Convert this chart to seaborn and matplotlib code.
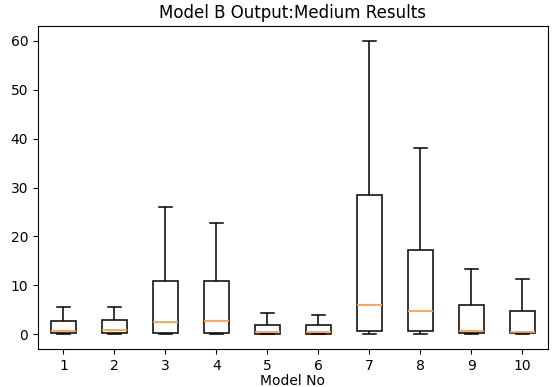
import numpy as np
import pandas as pd
import matplotlib
matplotlib.use("Agg")
import matplotlib.pyplot as plt
import seaborn as sns

# Lectura aproximada de cada caja: minimo, Q1, mediana, Q3, maximo
modelos = ["1", "2", "3", "4", "5", "6", "7", "8", "9", "10"]
minimos = [0.0, 0.0, 0.0, 0.0, 0.0, 0.0, 0.0, 0.0, 0.0, 0.0]
q1 = [0.2, 0.2, 0.3, 0.3, 0.1, 0.1, 0.6, 0.6, 0.2, 0.2]
medianas = [0.6, 0.8, 2.5, 2.7, 0.4, 0.4, 6.1, 4.8, 0.6, 0.4]
q3 = [2.7, 2.9, 11.0, 11.0, 1.9, 1.9, 28.4, 17.2, 6.1, 4.8]
maximos = [5.5, 5.5, 26.1, 22.8, 4.3, 4.0, 60.0, 38.0, 13.3, 11.4]

# Cinco valores por modelo: sus cuartiles coinciden con la lectura
filas = []
for i, m in enumerate(modelos):
    for v in (minimos[i], q1[i], medianas[i], q3[i], maximos[i]):
        filas.append({"Model No": m, "valor": v})
df = pd.DataFrame(filas)

fig, ax = plt.subplots(figsize=(5.54, 3.87), dpi=100)
sns.boxplot(data=df, x="Model No", y="valor", order=modelos, ax=ax,
            whis=np.inf, width=0.5, color="white", linecolor="black",
            linewidth=1.1, showfliers=False,
            medianprops={"color": "#ff9f4a", "linewidth": 1.3})

ax.set_title("Model B Output:Medium Results")
ax.set_xlabel("Model No", labelpad=1)
ax.set_ylabel("")
ax.set_ylim(-3, 63)
ax.set_xlim(-0.5, 9.5)

plt.subplots_adjust(left=0.0686, right=0.989, top=0.933, bottom=0.098)
plt.savefig("out.png", dpi=100)
plt.close()
